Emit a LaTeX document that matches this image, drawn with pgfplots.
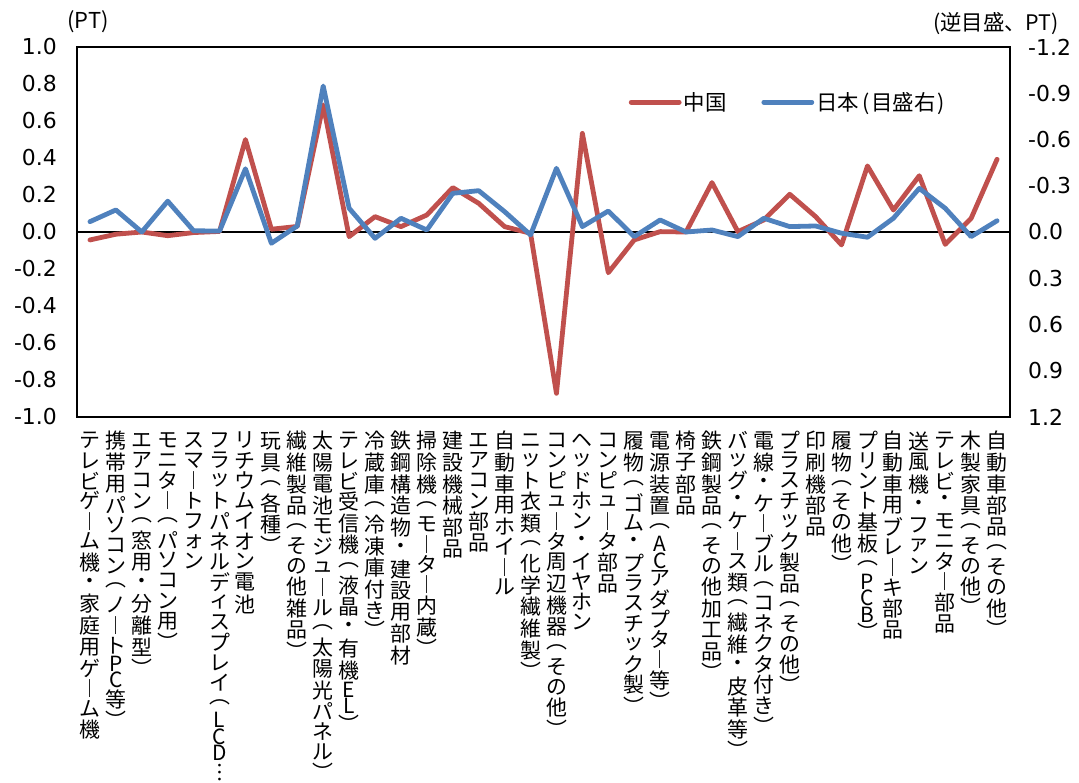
\documentclass[border=0pt]{standalone}
\usepackage{fontspec}
\setmainfont{Noto Sans CJK JP}
\newfontfamily\numfont{DejaVu Sans}
\usepackage{pgfplots}
\usepackage{pgfplotstable}
\pgfplotsset{compat=1.18}
\definecolor{cnred}{RGB}{192,80,77}
\definecolor{jpblue}{RGB}{79,129,189}

% vertical label: one character per cell; Latin, kana and brackets take shorter cells
\def\vtend{\vtend}
\def\vtcell#1#2{\vbox to #1{\vss\hbox to 21bp{\hss#2\hss}\vss}}
\def\vt#1{\vbox{\fontsize{21}{21}\selectfont\offinterlineskip\vtloop#1\vtend}}
\def\vtloop#1{\ifx#1\vtend\else\vtpick{#1}\expandafter\vtloop\fi}
\def\vtpick#1{%
  \ifnum`#1<256 \vtcell{16.5bp}{#1}%
  \else\ifnum`#1<"3100 \vtcell{20.2bp}{#1}%
  \else\ifnum`#1="FE31 \vtcell{20.2bp}{#1}%
  \else\ifnum`#1>"FE34 \vtcell{19bp}{#1}%
  \else\vtcell{21.6bp}{#1}\fi\fi\fi\fi}

% idx: category, cn: left axis, jp: right axis (reversed)
\pgfplotstableread{
idx cn jp
0 -0.043 -0.067
1 -0.012 -0.143
2 0.000 0.000
3 -0.020 -0.200
4 -0.003 -0.008
5 0.003 -0.006
6 0.500 -0.410
7 0.015 0.073
8 0.030 -0.039
9 0.687 -0.947
10 -0.025 -0.154
11 0.083 0.041
12 0.029 -0.089
13 0.092 -0.013
14 0.240 -0.251
15 0.155 -0.268
16 0.029 -0.132
17 -0.007 0.019
18 -0.872 -0.413
19 0.533 -0.035
20 -0.220 -0.136
21 -0.043 0.030
22 0.002 -0.078
23 0.000 0.000
24 0.267 -0.013
25 0.002 0.030
26 0.065 -0.089
27 0.204 -0.035
28 0.083 -0.039
29 -0.070 0.008
30 0.357 0.034
31 0.119 -0.089
32 0.304 -0.283
33 -0.067 -0.154
34 0.074 0.030
35 0.393 -0.073
}\data

\begin{document}
\begin{tikzpicture}
\useasboundingbox (0,0) rectangle (1079bp,783bp);
\pgfplotsset{
  base/.style={
    scale only axis, width=933bp, height=370bp,
    at={(77bp,366bp)}, anchor=south west,
    xmin=-0.5, xmax=35.5,
    axis line style={line width=1.2bp},
    tick style={draw=none},
    yticklabel style={font=\numfont\fontsize{22}{24}\selectfont},
    /pgf/number format/assume math mode=true,
    yticklabel style={/pgf/number format/fixed, /pgf/number format/fixed zerofill, /pgf/number format/precision=1},
  },
}
\begin{axis}[base,
  ymin=-1, ymax=1, ytick={-1,-0.8,...,1.01},
  ytick pos=left,
  yticklabel style={anchor=east, inner xsep=20bp, inner ysep=0pt},
  xtick={0,...,35}, xtick pos=bottom,
  xticklabel style={anchor=north, inner sep=0pt, yshift=-13bp},
  xticklabels={
    \vt{テレビゲ︱ム機・家庭用ゲ︱ム機},
    \vt{携帯用パソコン︵ノ︱トPC等︶},
    \vt{エアコン︵窓用・分離型︶},
    \vt{モニタ︱︵パソコン用︶},
    \vt{スマ︱トフォン},
    \vt{フラットパネルディスプレイ︵LCD︙},
    \vt{リチウムイオン電池},
    \vt{玩具︵各種︶},
    \vt{繊維製品︵その他雑品︶},
    \vt{太陽電池モジュ︱ル︵太陽光パネル︶},
    \vt{テレビ受信機︵液晶・有機EL︶},
    \vt{冷蔵庫︵冷凍庫付き︶},
    \vt{鉄鋼構造物・建設用部材},
    \vt{掃除機︵モ︱タ︱内蔵︶},
    \vt{建設機械部品},
    \vt{エアコン部品},
    \vt{自動車用ホイ︱ル},
    \vt{ニット衣類︵化学繊維製︶},
    \vt{コンピュ︱タ周辺機器︵その他︶},
    \vt{ヘッドホン・イヤホン},
    \vt{コンピュ︱タ部品},
    \vt{履物︵ゴム・プラスチック製︶},
    \vt{電源装置︵ACアダプタ︱等︶},
    \vt{椅子部品},
    \vt{鉄鋼製品︵その他加工品︶},
    \vt{バッグ・ケ︱ス類︵繊維・皮革等︶},
    \vt{電線・ケ︱ブル︵コネクタ付き︶},
    \vt{プラスチック製品︵その他︶},
    \vt{印刷機部品},
    \vt{履物︵その他︶},
    \vt{プリント基板︵PCB︶},
    \vt{自動車用ブレ︱キ部品},
    \vt{送風機・ファン},
    \vt{テレビ・モニタ︱部品},
    \vt{木製家具︵その他︶},
    \vt{自動車部品︵その他︶}},
]
\addplot[black, line width=1.2bp, forget plot] coordinates {(-0.5,0) (35.5,0)};
\addplot[cnred, line width=4.8bp, line join=round, line cap=round] table[x=idx, y=cn] {\data};
\end{axis}
\begin{axis}[base,
  hide x axis, axis y line*=right,
  y dir=reverse, ymin=-1.2, ymax=1.2,
  ytick={-1.2,-0.9,-0.6,-0.3,0,0.3,0.6,0.9,1.2},
  yticklabel style={anchor=west, inner xsep=18bp, inner ysep=0pt},
  legend columns=2,
  legend style={at={(0.588,0.851)}, anchor=west, draw=none, fill=none,
    font=\fontsize{21.5}{23}\selectfont,
    /tikz/every even column/.append style={column sep=33bp}},
  legend image code/.code={\draw[#1, line cap=round] (0bp,0bp) -- (48bp,0bp);},
]
\addlegendimage{cnred, line width=4.8bp}
\addlegendentry{中国}
\addplot[jpblue, line width=4.8bp, line join=round, line cap=round] table[x=idx, y=jp] {\data};
\addlegendentry{日本\kern3bp(\kern2bp目盛右\kern2bp)}
\end{axis}
\node[font=\fontsize{22}{24}\selectfont] at (88bp,761bp) {(PT)};
\node[font=\fontsize{21.5}{23}\selectfont] at (996bp,759bp) {(逆目盛、PT)};
\end{tikzpicture}
\end{document}
